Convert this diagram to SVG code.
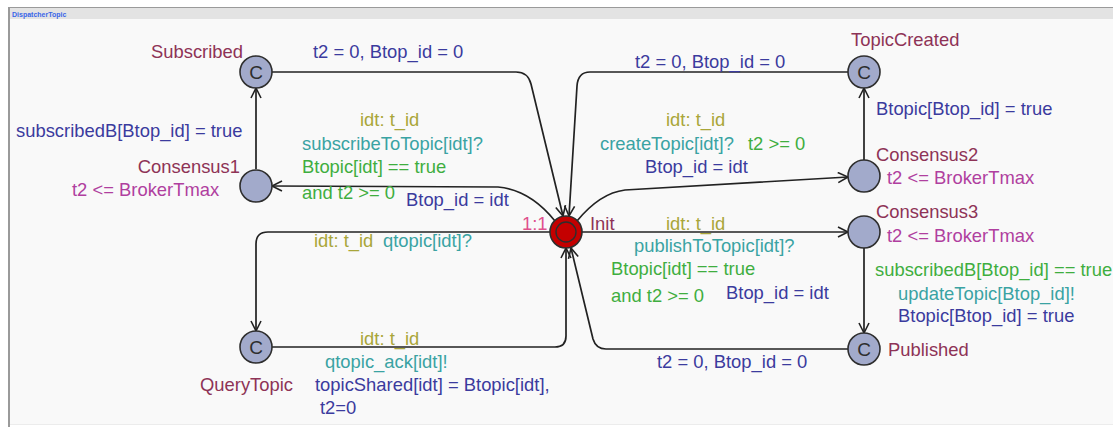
<svg xmlns="http://www.w3.org/2000/svg" width="1113" height="427" viewBox="0 0 1113 427">
  <style>
    text { font-family: "Liberation Sans", Arial, sans-serif; font-size: 18.4px; }
    .name { fill: #8e3356; }
    .inv { fill: #b03f9f; }
    .sel { fill: #a9a63a; }
    .sync { fill: #3aa3a3; }
    .guard { fill: #3fae3f; }
    .upd { fill: #3b3b9e; }
    .prio { fill: #e0508c; }
    .loc { fill: #a2aacb; stroke: #2e2e2e; stroke-width: 1.6; }
    .edge { fill: none; stroke: #222; stroke-width: 1.7; marker-end: url(#arrow); }
    .cmark { font-size: 19px; fill: #2e2e2e; text-anchor: middle; }
  </style>
  <defs>
    <marker id="arrow" markerUnits="userSpaceOnUse" markerWidth="14" markerHeight="14" refX="11" refY="6" orient="auto">
      <path d="M1,1 L11,6 L1,11" fill="none" stroke="#222" stroke-width="1.6"/>
    </marker>
  </defs>

  <!-- window frame -->
  <rect x="0" y="0" width="1113" height="427" fill="#ffffff"/>
  <rect x="9" y="8" width="1104" height="416" fill="#f9f9f9"/>
  <rect x="9" y="8" width="1104" height="11" fill="#e3e3e3"/>
  <line x1="8" y1="7.5" x2="1113" y2="7.5" stroke="#9a9a9a" stroke-width="1"/>
  <line x1="9" y1="7" x2="9" y2="427" stroke="#9a9a9a" stroke-width="2"/>
  <line x1="10" y1="424.5" x2="1113" y2="424.5" stroke="#ececec" stroke-width="1"/>
  <text x="12" y="16.5" style="font-size:7px;font-weight:bold;fill:#3a66e8">DispatcherTopic</text>

  <!-- transitions -->
  <g id="edges">
    <path class="edge" d="M272,72 L516,72 Q528,72 531,84 L563,216"/>
    <path class="edge" d="M848,72 L590,72 Q578,72 577,86 L569,216"/>
    <path class="edge" d="M577,221 Q600,193 625,190 L848,177"/>
    <path class="edge" d="M555,221 Q530,190 498,187 L272,186"/>
    <path class="edge" d="M256,169 L256,88"/>
    <path class="edge" d="M864,160 L864,88"/>
    <path class="edge" d="M550,232 L268,232 Q256,232 256,244 L256,331"/>
    <path class="edge" d="M272,347 L555,347 Q566,347 566,336 L566,248"/>
    <path class="edge" d="M582,232 L848,232"/>
    <path class="edge" d="M864,248 L864,333"/>
    <path class="edge" d="M848,349 L606,349 Q596,349 593,339 L571,248"/>

    <!-- edge labels -->
    <text class="upd" x="313" y="58">t2 = 0, Btop_id = 0</text>
    <text class="upd" x="635" y="68">t2 = 0, Btop_id = 0</text>
    <text class="upd" x="16" y="137">subscribedB[Btop_id] = true</text>
    <text class="upd" x="876" y="115">Btopic[Btop_id] = true</text>

    <text class="sel" x="360" y="126">idt: t_id</text>
    <text class="sync" x="302" y="150">subscribeToTopic[idt]?</text>
    <text class="guard" x="302" y="173">Btopic[idt] == true</text>
    <text class="guard" x="302" y="199">and t2 &gt;= 0</text>
    <text class="upd" x="406" y="206">Btop_id = idt</text>

    <text class="sel" x="666" y="126">idt: t_id</text>
    <text class="sync" x="600" y="150">createTopic[idt]?</text>
    <text class="guard" x="748" y="150">t2 &gt;= 0</text>
    <text class="upd" x="645" y="173">Btop_id = idt</text>

    <text class="sel" x="666" y="230">idt: t_id</text>
    <text class="sync" x="634" y="252">publishToTopic[idt]?</text>
    <text class="guard" x="611" y="275">Btopic[idt] == true</text>
    <text class="guard" x="611" y="302">and t2 &gt;= 0</text>
    <text class="upd" x="726" y="299">Btop_id = idt</text>

    <text class="sel" x="314" y="247">idt: t_id</text>
    <text class="sync" x="383" y="247">qtopic[idt]?</text>

    <text class="guard" x="875" y="276">subscribedB[Btop_id] == true</text>
    <text class="sync" x="898" y="300">updateTopic[Btop_id]!</text>
    <text class="upd" x="898" y="322">Btopic[Btop_id] = true</text>

    <text class="sel" x="360" y="345">idt: t_id</text>
    <text class="sync" x="325" y="368">qtopic_ack[idt]!</text>
    <text class="upd" x="315" y="391">topicShared[idt] = Btopic[idt],</text>
    <text class="upd" x="320" y="414">t2=0</text>

    <text class="upd" x="657" y="368">t2 = 0, Btop_id = 0</text>
  </g>

  <!-- locations -->
  <g id="Subscribed">
    <circle class="loc" cx="256" cy="72" r="16"/>
    <text class="cmark" x="256" y="79">C</text>
    <text class="name" x="243" y="58" text-anchor="end">Subscribed</text>
  </g>
  <g id="Consensus1">
    <circle class="loc" cx="256" cy="186" r="16"/>
    <text class="name" x="240" y="173" text-anchor="end">Consensus1</text>
    <text class="inv" x="72" y="196">t2 &lt;= BrokerTmax</text>
  </g>
  <g id="QueryTopic">
    <circle class="loc" cx="256" cy="347" r="16"/>
    <text class="cmark" x="256" y="354">C</text>
    <text class="name" x="200" y="391">QueryTopic</text>
  </g>
  <g id="Init">
    <circle cx="566" cy="232" r="16" fill="#c40000" stroke="#2e2e2e" stroke-width="1.6"/>
    <circle cx="566" cy="232" r="10" fill="none" stroke="#2e2e2e" stroke-width="1.4"/>
    <text class="prio" x="522" y="230">1:1</text>
    <text class="name" x="590" y="230">Init</text>
  </g>
  <g id="TopicCreated">
    <circle class="loc" cx="864" cy="72" r="16"/>
    <text class="cmark" x="864" y="79">C</text>
    <text class="name" x="851" y="46">TopicCreated</text>
  </g>
  <g id="Consensus2">
    <circle class="loc" cx="864" cy="176" r="16"/>
    <text class="name" x="876" y="161">Consensus2</text>
    <text class="inv" x="887" y="184">t2 &lt;= BrokerTmax</text>
  </g>
  <g id="Consensus3">
    <circle class="loc" cx="864" cy="232" r="16"/>
    <text class="name" x="876" y="218">Consensus3</text>
    <text class="inv" x="887" y="242">t2 &lt;= BrokerTmax</text>
  </g>
  <g id="Published">
    <circle class="loc" cx="864" cy="349" r="16"/>
    <text class="cmark" x="864" y="356">C</text>
    <text class="name" x="888" y="356">Published</text>
  </g>
</svg>
